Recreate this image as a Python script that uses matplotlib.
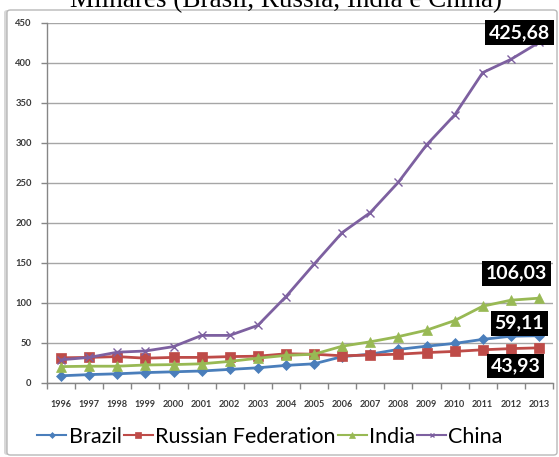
import numpy as np
import matplotlib.pyplot as plt
from matplotlib.patches import FancyBboxPatch

years = [str(y) for y in range(1996, 2014)]
brazil = [9, 10.5, 11.5, 13, 14, 15, 17, 19, 22, 24, 33, 36, 42, 46, 49.5, 54.5, 58.5, 59.11]
russia = [31.5, 32, 33, 31, 32, 32, 33, 33.5, 36.5, 36, 34, 35, 36, 38, 39.5, 41.5, 43, 43.93]
india = [20.5, 21, 21, 22.5, 23, 24, 27, 31, 34.5, 36, 46, 51.5, 58, 66, 78, 96, 103.5, 106.03]
china = [29, 32, 38.5, 40, 45.5, 59.5, 59.5, 72, 108, 148.5, 188, 213, 251, 297.5, 335, 388, 404.5, 425.68]

series = [
    ("Brazil", brazil, "#4a7ebb", "D", 5),
    ("Russian Federation", russia, "#be4b48", "s", 6.5),
    ("India", india, "#98b954", "^", 7),
    ("China", china, "#7d60a0", "x", 6),
]

fig = plt.figure(figsize=(5.59, 4.57), dpi=100)

# frame around the chart, with a soft shadow on the left
shadow = FancyBboxPatch((4 / 559, 2 / 457), 552 / 559, 445 / 457,
                        boxstyle="round,pad=0,rounding_size=0.006",
                        transform=fig.transFigure, fc="#d8d8d8", ec="none", zorder=-2)
box = FancyBboxPatch((7 / 559, 2 / 457), 550 / 559, 445 / 457,
                     boxstyle="round,pad=0,rounding_size=0.006",
                     transform=fig.transFigure, fc="white", ec="#b8b8b8", lw=1, zorder=-1)
fig.patches.extend([shadow, box])

fig.text(286 / 559, 1 - 7 / 457, "Milhares (Brasil, Rússia, Índia e China)",
         family="Liberation Serif", fontsize=19.5, ha="center", va="baseline")

ax = fig.add_axes([47 / 559, 74 / 457, 506 / 559, 360 / 457])
ax.set_facecolor("none")
x = np.arange(len(years))
for name, vals, color, marker, ms in series:
    ax.plot(x, vals, color=color, lw=2, marker=marker, ms=ms,
            mew=1 if marker == "x" else 0.5, label=name, zorder=3)

ax.set_xlim(-0.5, len(years) - 0.5)
ax.set_ylim(0, 450)
ax.set_yticks(range(0, 451, 50))
ax.set_xticks(x)
ax.set_xticklabels(years)
ax.set_xticks(np.arange(-0.5, len(years)), minor=True)
ax.tick_params(axis="x", which="major", length=0, pad=12, labelsize=6.6,
               labelcolor="#3a3a3a")
ax.tick_params(axis="x", which="minor", length=4, color="#868686", width=1)
ax.tick_params(axis="y", length=4, color="#868686", width=1, pad=7,
               labelsize=6.8, labelcolor="#3a3a3a")
for lab in ax.get_xticklabels() + ax.get_yticklabels():
    lab.set_family("Lato")
    lab.set_fontweight("bold")
ax.grid(axis="y", color="#a6a6a6", lw=1)
ax.set_axisbelow(True)
for s in ["top", "right"]:
    ax.spines[s].set_visible(False)
for s in ["left", "bottom"]:
    ax.spines[s].set_color("#868686")
    ax.spines[s].set_linewidth(1)

# end-of-series value labels
last = len(years) - 1
label_offsets = {"China": (-14, 7), "India": (-16, 18), "Brazil": (-14, 9), "Russian Federation": (-17, -13)}
for name, vals, color, marker, ms in series:
    dx, dy = label_offsets[name]
    ax.annotate(f"{vals[-1]:.2f}".replace(".", ","), (last, vals[-1]),
                xytext=(dx, dy), textcoords="offset points", ha="center", va="center",
                family="Lato", fontweight="bold", fontsize=14, color="white",
                bbox=dict(boxstyle="square,pad=0.2", fc="black", ec="none"),
                annotation_clip=False, zorder=5)

leg = fig.legend(loc="center", bbox_to_anchor=(270 / 559, 1 - 437 / 457), ncol=4,
                 frameon=False, prop={"family": "Lato", "size": 15.5},
                 handlelength=1.35, handletextpad=0.1, columnspacing=0.1,
                 markerscale=0.6)
for h in leg.get_lines():
    h.set_linewidth(1.5)

fig.savefig("out.png", dpi=100)
